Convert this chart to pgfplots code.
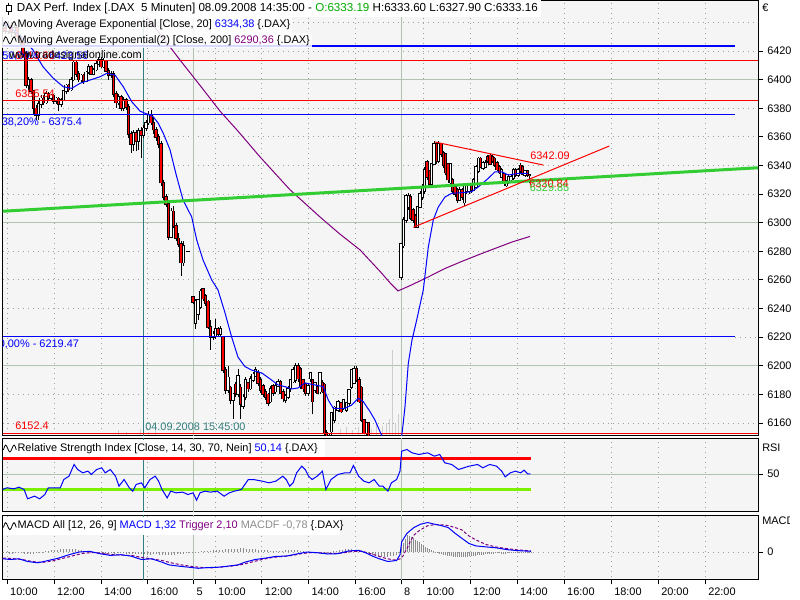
\documentclass[border=0pt]{standalone}
\usepackage{pgfplots}
\pgfplotsset{compat=1.18}
\usepackage{pgfplotstable}
\usepackage{fontspec}
\setmainfont{Liberation Sans}
\definecolor{bgpanel}{RGB}{245,245,245}
\definecolor{gridsolid}{RGB}{176,194,176}
\definecolor{griddot}{RGB}{150,165,150}
\definecolor{tealv}{RGB}{50,125,125}
\definecolor{trendgreen}{RGB}{50,205,50}
\definecolor{rsigreen}{RGB}{124,240,0}
\definecolor{emapurple}{RGB}{128,0,128}
\definecolor{vgreen}{RGB}{0,170,0}
\definecolor{hgray}{RGB}{140,140,140}
\definecolor{volgray}{RGB}{205,205,205}
\definecolor{lvlblue}{RGB}{0,0,255}

\pgfplotstableread{
x o h l c
5 6436 6440 6432 6434
8 6434 6441 6432 6438
11 6438 6440 6430 6433
14 6433 6439 6431 6436
17 6436 6437 6428 6430
20 6430 6432 6424 6426
23 6426 6428 6416 6418
26 6418 6420 6394 6396
28.5 6396 6402 6393 6400
31 6400 6401 6390 6392
33.5 6392 6393 6376 6380
36 6380 6382 6372 6375
38.5 6375 6385 6372 6383
41 6383 6389 6380 6387
43.5 6387 6389 6382 6384
46 6384 6392 6383 6390
48.5 6390 6391 6385 6387
51 6387 6390 6385 6389
53.5 6389 6390 6383 6385
56 6385 6388 6383 6387
58.5 6387 6388 6378 6383
61 6383 6387 6381 6386
63.5 6386 6393 6385 6392
66 6392 6397 6390 6396
68.5 6396 6397 6391 6393
71 6393 6402 6392 6400
73.5 6400 6414 6399 6412
76 6412 6413 6402 6404
78.5 6404 6406 6398 6400
81 6400 6404 6398 6403
83.5 6403 6404 6397 6399
86 6399 6406 6398 6405
88.5 6405 6411 6404 6409
91 6409 6410 6403 6404
93.5 6404 6408 6403 6407
96 6407 6413 6406 6411
98.5 6411 6416 6410 6414
101 6414 6416 6408 6409
103.5 6409 6415 6408 6413
106 6413 6414 6405 6406
108.5 6406 6408 6400 6403
111 6403 6406 6401 6404
113.5 6404 6406 6388 6390
116 6390 6392 6380 6384
118.5 6384 6390 6382 6388
121 6388 6389 6378 6380
123.5 6380 6388 6378 6386
126 6386 6387 6379 6381
128.5 6381 6383 6359 6362
131 6362 6364 6349 6355
133.5 6355 6365 6350 6363
136 6363 6365 6350 6357
138.5 6357 6366 6351 6364
141 6364 6367 6345 6361
143.5 6361 6368 6359 6366
146 6366 6372 6364 6370
148.5 6370 6378 6368 6375
151 6375 6379 6368 6370
153.5 6370 6374 6362 6365
156 6365 6367 6357 6360
158.5 6360 6362 6352 6355
161 6355 6357 6326 6328
163.5 6328 6330 6316 6318
166 6318 6320 6311 6313
168.5 6313 6315 6288 6290
171 6290 6310 6289 6308
173.5 6308 6312 6296 6298
176 6298 6300 6287 6289
178.5 6289 6293 6283 6285
181 6285 6287 6263 6272
183.5 6272 6287 6270 6284
188 6280 6280.5 6279.5 6280
193 6248 6249 6243 6244.6
195.5 6230 6247 6226 6245
198 6236 6247 6232 6246
200.5 6241 6254 6240 6252
203 6253.7 6254 6245 6247
205.5 6249 6250 6242 6244
208 6245 6246 6226 6227
210.5 6227 6232 6211 6220
213 6220 6224 6218 6222
215.5 6221 6233 6219 6226
218 6226 6227 6220 6222
220.5 6222 6228 6220 6226
223 6220 6221 6195 6197
225.5 6197 6199 6180 6183
228 6183 6200 6181 6192
230.5 6185 6186 6173 6176
233 6176 6181 6163 6180
235.5 6187 6189 6178 6181
238 6180 6198 6178 6193
240.5 6185 6187 6163 6173
243 6172 6180 6170 6178
245.5 6178 6192 6176 6190
248 6188 6189 6182 6184
250.5 6184 6193 6183 6191
253 6190 6196 6189 6194
255.5 6193 6199 6192 6197
258 6195 6197 6186 6188
260.5 6190 6192 6181 6183
263 6186 6187 6178 6180
265.5 6182 6184 6176 6178
268 6180 6181 6172 6174
270.5 6175 6186 6174 6184
273 6186 6187 6179 6181
275.5 6182 6188 6180 6186
278 6186 6191 6185 6189
280.5 6189 6190 6180 6181
283 6182 6184 6175 6177
285.5 6176 6180 6174 6179
288 6178 6186 6177 6184
290.5 6184 6191 6182 6190
293 6189 6199 6188 6197
295.5 6190 6202 6188 6200
298 6200 6202 6189 6191
300.5 6198 6199 6184 6186
303 6190 6191 6182 6184
305.5 6187 6188 6179 6181
308 6181 6187 6179 6186
310.3 6191 6196 6189 6195
312.6 6190 6191 6166 6175
315 6183 6189 6181 6188
317.5 6185 6186 6180 6181
320 6182 6196 6180 6195
322.3 6188 6190 6181 6182
324.6 6187 6188 6150 6153
326.8 6153 6155 6138 6143
329 6143 6152 6140 6150
331.5 6154 6168 6148 6167
334.5 6162 6172 6160 6171
338 6169 6176 6168 6175
341 6174 6175 6167 6168
343.5 6170 6177 6169 6176
346.5 6169 6175 6168 6174
349 6174 6184 6172 6183
351.5 6185 6198 6184 6197
354 6188 6200 6187 6198
356.5 6198 6200 6189 6190
359 6190 6192 6174 6175
361.5 6185 6186 6161 6162
364 6162 6163 6152 6153
366.5 6153 6161 6150 6160
368.8 6160 6161 6145 6150
401 6262 6286 6260 6285
403.5 6284 6304 6282 6302
406 6302 6320 6300 6319
408.5 6311 6321 6309 6319
410.8 6318 6320 6302 6303
413 6309 6310 6300 6302
415.3 6305 6306 6296 6297
417.6 6297 6312 6296 6311
420 6311 6322 6310 6320
422.3 6318 6327 6316 6325
424.6 6322 6339 6320 6337
427 6342.7 6344 6330 6332
429.3 6336 6337 6324 6327
431.6 6327 6342 6325 6341
434 6341 6357 6340 6355
436.3 6355 6356 6341 6343
438.6 6343 6357 6342 6355
441 6355 6356 6346 6348
443.3 6349 6350 6338 6340
445.6 6348 6349 6333 6335
448 6341 6342 6328 6330
450.3 6328 6342 6326 6341
452.6 6330 6331 6320 6322
455 6325 6326 6318 6320
457.3 6323 6324 6314 6316
459.6 6316 6325 6315 6323
462 6323 6324 6316 6318
464.3 6314 6328 6312 6327
466.6 6322 6327 6320 6326
469 6322 6327 6320 6326
471.3 6326 6327 6321 6323
473.6 6323 6331 6322 6330
476 6325 6340 6324 6339
478.3 6336 6346 6335 6345
480.6 6345 6346 6338 6339
483 6338 6343 6337 6342
485.3 6339 6344 6338 6342
487.6 6346 6347 6342 6343
490 6347 6348 6340 6341
492.3 6346 6347 6342 6343
494.6 6345 6346 6339 6340
497 6342 6343 6336 6337
499.3 6339 6340 6334 6335
501.6 6332 6338 6331 6337
504 6334 6335 6326 6328
506.3 6326 6330 6325 6329
508.6 6328 6334 6327 6332
511 6330 6333 6329 6332
513.3 6331 6338 6330 6337
515.6 6337 6338 6332 6333
518 6333 6338 6332 6337
520.3 6340 6342 6335 6336
522.6 6339 6340 6333 6334
525 6333 6337 6332 6336
527.3 6336 6337 6332 6333
529.6 6333.19 6333.6 6327.9 6333.16
}\candles

\pgfplotsset{panel/.style={
  scale only axis, width=566.625pt, xmin=2.5, xmax=758,
  axis background/.style={fill=bgpanel},
  axis line style={black, line width=0.75pt},
  tick style={black, line width=0.75pt},
  tick align=outside, major tick length=4pt,
  ytick pos=right, yticklabel pos=right,
  tick label style={font=\fontsize{8.2}{9.8}\selectfont},
  /pgf/number format/1000 sep={},
  /pgf/number format/assume math mode=true,
  clip=true,
}}

\newcommand\vgrid[2]{%
  \pgfplotsinvokeforeach{7,54,101,147.5,215,261.7,308.3,355,423.5,470,517,564,611,658,705}{%
    \addplot[griddot, line width=0.75pt, dash pattern=on 0.75pt off 3pt, forget plot] coordinates {(##1,#1)(##1,#2)};}
  \pgfplotsinvokeforeach{193.5,401}{%
    \addplot[gridsolid, line width=0.75pt, forget plot] coordinates {(##1,#1)(##1,#2)};}
  \addplot[tealv, line width=0.75pt, forget plot] coordinates {(143,#1)(143,#2)};
}

\newcommand\wave[1]{%
  \draw[black, line width=0.6pt] (2.6pt,#1-1pt) sin (4.2pt,#1+2.6pt) cos (5.8pt,#1) sin (7.4pt,#1-2.6pt) cos (9pt,#1) sin (10.6pt,#1+2.6pt) cos (12.2pt,#1-1pt);}

\begin{document}
\fontsize{8.2}{9.8}\selectfont
\begin{tikzpicture}
\useasboundingbox (0pt,0pt) rectangle (600pt,-450pt);

% ===== price panel =====
\begin{axis}[panel, at={(1.875pt,-0.75pt)}, anchor=north west, height=325.5pt,
  ymin=6151.62, ymax=6454.95, xtick=\empty,
  ytick={6160,6180,...,6420}]
\pgfplotsinvokeforeach{6160,6180,6240,6260,6280,6320,6340,6360,6380,6420,6440}{%
  \addplot[griddot, line width=0.75pt, dash pattern=on 0.75pt off 3pt, forget plot] coordinates {(2.5,#1)(758,#1)};}
\addplot[griddot, line width=0.75pt, dash pattern=on 0.75pt off 3pt, forget plot] coordinates {(735,6220)(758,6220)};
\pgfplotsinvokeforeach{6200,6300,6400}{%
  \addplot[gridsolid, line width=0.75pt, forget plot] coordinates {(2.5,#1)(758,#1)};}
\vgrid{6100}{6500}
% faint volume
\addplot[volgray, ycomb, line width=0.75pt] coordinates {
(118,6155)(126,6154)(140,6156)(148,6154)(155,6155)(340,6156)(346,6157)(352,6155)(358,6157)
(364,6158)(371,6156)(376,6159)(382,6158)(386,6160)(389,6163)(392,6211)(395,6160)(398,6166)};
% candles: wicks, borders, bodies
\addplot[black, line width=0.75pt, -, quiver={u=0, v=\thisrow{h}-\thisrow{l}}] table[x=x, y=l] {\candles};
\addplot[black, line width=2.3pt, -, quiver={u=0, v=abs(\thisrow{c}-\thisrow{o})+1.0}] table[x=x, y expr={min(\thisrow{o},\thisrow{c})-0.5}] {\candles};
\addplot[red, line width=0.9pt, -, quiver={u=0, v=\thisrow{o}-\thisrow{c}},
  restrict expr to domain={\thisrow{o}-\thisrow{c}}{0.001:1000}] table[x=x, y=c] {\candles};
\addplot[white, line width=0.9pt, -, quiver={u=0, v=\thisrow{c}-\thisrow{o}},
  restrict expr to domain={\thisrow{c}-\thisrow{o}}{0.001:1000}] table[x=x, y=o] {\candles};
% horizontal levels
\addplot[lvlblue, line width=0.9pt] coordinates {(2.5,6423.56)(735,6423.56)};
\addplot[red, line width=0.8pt] coordinates {(2.5,6413.6)(758,6413.6)};
\addplot[red, line width=0.8pt] coordinates {(2.5,6385.54)(758,6385.54)};
\addplot[lvlblue, line width=0.9pt] coordinates {(2.5,6375.4)(735,6375.4)};
\addplot[lvlblue, line width=0.9pt] coordinates {(2.5,6220.3)(735,6220.3)};
\addplot[red, line width=0.8pt] coordinates {(2.5,6152.6)(758,6152.6)};
% EMA 200
\addplot[emapurple, line width=0.75pt] coordinates {
(125,6461)(133,6455.6)(150,6441)(167,6425.6)(180,6413.7)(200,6396)(220,6378)(237,6364.8)
(260,6346)(290,6323)(320,6304)(340,6292)(360,6281)(380,6266)(390,6258)(398,6252.3)
(410,6256)(428,6262)(445,6268)(462,6273)(480,6278)(495,6282)(512,6286.5)(530,6290.4)};
% EMA 20
\addplot[blue, line width=0.75pt] coordinates {
(2.5,6440)(15,6434)(25,6427)(33,6420.7)(43,6409)(53.3,6400.9)(63.3,6395)(71.7,6393.9)
(80,6397.4)(90,6399.7)(100,6402)(106.7,6404.4)(115,6403.2)(123.3,6395)(131.7,6384.6)
(140,6378)(153.3,6374)(158.3,6369.5)(163.3,6362.5)(170,6351)(176,6334)(183,6316)
(191.7,6304)(196.7,6288)(203,6274)(211.7,6260)(218,6253)(225,6237)(231.7,6220)(238,6206)
(245,6199.4)(251.7,6197)(261.7,6195)(271.7,6190)(278,6186.6)(285,6185.4)(291.7,6183.8)
(298,6184.5)(305,6188)(315,6186.6)(323.3,6185.4)(328.3,6176)(333.3,6170.3)(345,6170.3)
(351.7,6172.6)(358.3,6177.3)(363.3,6174.9)(370,6168)(375,6162)(380,6154)(382.3,6150.5)
(388,6143)(396,6140)(401.7,6150.5)(405,6171.4)(408.3,6201.7)(412,6218)(416.7,6232)
(423.3,6253)(428.3,6283)(433.3,6302)(438.3,6311)(445,6318)(451.7,6320.5)(461.7,6321)
(471.7,6321.7)(478.3,6325)(488.3,6331)(495,6335.6)(501.7,6335.6)(508.3,6333.3)
(518.3,6334.5)(528.3,6334.4)};
% trend lines
\addplot[trendgreen, line width=2.25pt] coordinates {(2.5,6308)(758,6338.4)};
\addplot[red, line width=0.75pt] coordinates {(435,6356.4)(543.3,6340.3)};
\addplot[red, line width=0.75pt] coordinates {(413.3,6296.8)(609.3,6353.6)};
% labels
\node[anchor=west, inner sep=0pt, blue] at (axis cs:2,6416.5) {50,00\% - 6423.56};
\node[anchor=west, inner sep=0pt, red] at (axis cs:15,6416.5) {6413.60};
\node[anchor=west, inner sep=0pt] at (axis cs:9,6416.5) {www.tradesignalonline.com};
\node[anchor=west, inner sep=0pt, red] at (axis cs:15,6389.9) {6385.54};
\node[anchor=west, inner sep=0pt, blue] at (axis cs:1.5,6370.4) {38,20\% - 6375.4};
\node[anchor=west, inner sep=0pt, blue] at (axis cs:-1.5,6215.2) {0,00\% - 6219.47};
\node[anchor=west, inner sep=0pt, red] at (axis cs:15,6158) {6152.4};
\node[anchor=west, inner sep=0pt, tealv] at (axis cs:145,6157.5) {04.09.2008 15:45:00};
\node[anchor=west, inner sep=0pt, red] at (axis cs:530,6347) {6342.09};
\node[anchor=west, inner sep=0pt, red] at (axis cs:529,6327.5) {6330.84};
\node[anchor=west, inner sep=0pt, trendgreen] at (axis cs:529.5,6324.5) {6329.85};
\end{axis}

% ===== RSI panel =====
\begin{axis}[panel, at={(1.875pt,-328.875pt)}, anchor=north west, height=54.75pt,
  ymin=1.61, ymax=95.81, xtick=\empty, ytick={50}]
\addplot[gridsolid, line width=0.75pt, forget plot] coordinates {(2.5,50)(758,50)};
\vgrid{0}{100}
\addplot[red, line width=2.25pt] coordinates {(2.5,70)(531,70)};
\addplot[rsigreen, line width=2.25pt] coordinates {(2.5,30)(531,30)};
\addplot[blue, line width=0.75pt] coordinates {
(2.5,30)(6.9,32.2)(13.8,30.9)(19,33)(24.1,30)(27.6,18)(34.5,21.4)(39.7,18)(44.8,23.5)
(48.3,32.2)(55.2,32.2)(60.3,32.2)(63.8,42.9)(69,47.2)(74.1,62.3)(77.6,55.8)(82.8,51.5)
(87.9,53.7)(91.4,49.4)(96.6,55.8)(101.7,58)(105.2,51.5)(110.3,55.8)(115.5,47.2)(119,34.3)
(124.1,42.9)(129.3,32.2)(132.8,27.9)(136.2,36.5)(141.4,38.6)(144.8,32.2)(150,42.9)
(155.2,47.2)(158.6,40.8)(162,30)(167.2,19.2)(170.7,27.9)(175.9,25.7)(182.8,26.6)
(187.9,23.5)(193.1,25.7)(196.6,16.2)(200,25.7)(205.2,27.9)(210.3,26.6)(217.2,27.9)
(224.1,21.4)(229.3,25.7)(234.5,27.9)(241.4,30)(248.3,42.9)(253.4,42.9)(262.1,40.8)
(269,38.6)(275.9,40.8)(282.8,47.2)(286.2,42.9)(289.7,34.3)(293.1,38.6)(296.6,51.5)
(301.7,60.1)(305.2,55.8)(308.6,47.2)(312.1,42.9)(317.2,47.2)(322.4,53.7)(325.9,30)
(331,42.9)(337.9,49.4)(344.8,51.5)(350,51.5)(353.4,61)(358.6,47.2)(363.8,40.8)(369,38.6)
(374.1,42.9)(379.3,34.3)(382.8,34.3)(387.9,27.9)(391.4,38.6)(396.6,42.9)(400,53.7)
(401.7,79.5)(406.9,81.6)(412.1,77.3)(419,75.2)(427.6,77.3)(434.5,73)(439.7,75.2)
(444.8,64.4)(451.7,62.3)(458.6,55.8)(463.8,58)(469,60.1)(477.6,62.3)(482.8,58)
(489.7,62.3)(496.6,60.1)(501.7,53.7)(505.2,46.3)(510.3,51.5)(515.5,53.7)(520.7,51.5)
(524.1,55)(527.6,50.2)(530.3,50.1)};
\end{axis}

% ===== MACD panel =====
\begin{axis}[panel, at={(1.875pt,-386.25pt)}, anchor=north west, height=48pt,
  ymin=-27, ymax=37, ytick={0}, xtick pos=bottom,
  xtick={7,54,101,147.5,193.5,215,261.7,308.3,355,401,423.5,470,517,564,611,658,705},
  xticklabels={10:00,12:00,14:00,16:00,5,10:00,12:00,14:00,16:00,8,10:00,12:00,14:00,16:00,18:00,20:00,22:00},
  xticklabel style={anchor=north west, xshift=-0.5pt}]
\addplot[griddot, line width=0.75pt, dash pattern=on 0.75pt off 3pt, forget plot] coordinates {(2.5,0)(758,0)};
\vgrid{-40}{50}
\addplot[hgray, ycomb, line width=0.75pt] coordinates {
(3,-1)(6,-1)(9,-1.5)(12,-1.5)(15,-1)(18,-0.5)(21,-1)(24,-1.5)(27,-2)(30,-2)(33,-1.5)(36,-1)
(39,-0.5)(42,0.5)(45,1)(48,1.5)(51,2)(54,2)(57,2.5)(60,3)(63,3)(66,3.5)(69,3.5)(72,3)(75,3)
(78,2.5)(81,2)(84,1.5)(87,1)(90,0.5)(93,0.2)(96,-0.5)(99,-1)(102,-1.5)(105,-1.5)(108,-1)
(111,-1)(114,-1.5)(117,-1)(120,-0.5)(123,-1)(126,-1.5)(129,-2)(132,-2)(135,-1.5)(138,-1.5)
(141,-2)(144,-2)(147,-2.5)(150,-2.5)(153,-2)(156,-2)(159,-2.5)(162,-3)(165,-3)(168,-3)
(171,-2.5)(174,-2.5)(177,-2)(180,-1.5)(183,-1.5)(186,-1)(189,-0.5)(192,-0.5)(195,0.2)
(198,0.5)(201,1)(204,1)(207,1.5)(210,1.5)(213,2)(216,2)(219,2.5)(222,2.5)(225,3)(228,3)
(231,3)(234,3.5)(237,3.5)(240,4)(243,4)(246,3.5)(249,3.5)(252,3)(255,3)(258,2.5)(261,2.5)
(264,2)(267,2)(270,1.5)(273,1.5)(276,1)(279,1)(282,1.5)(285,2)(288,2)(291,2.5)(294,2.5)
(297,2)(300,1.5)(303,1)(306,0.5)(309,0.2)(312,-0.5)(315,-0.5)(318,0.2)(321,0.5)(324,0.2)
(327,-0.5)(330,0.2)(333,1)(336,1.5)(339,2)(342,2.5)(345,3)(348,3)(351,3)(354,2.5)(357,2)
(360,1)(363,0.2)(366,-1)(369,-2)(372,-3)(375,-3.5)(378,-4)(381,-4.5)(384,-4.5)(387,-4.5)
(390,-4)(393,-3.5)(396,-3)(399,-1)
(401,5)(403,9)(405,13)(407,17)(409,16)(411,15)(413,14)(415,12)(417,11)(419,10)(421,8.5)
(423,7)(425,5.5)(427,4)(429,3)(431,2)(433,1)(435,0.2)(437,-1)(439,-1.5)(441,-2)(443,-2.5)
(445,-3)(447,-3.5)(449,-4)(451,-4)(453,-4.5)(455,-5)(457,-5)(459,-5)(461,-5)(463,-5)
(465,-4.5)(467,-4.5)(469,-4)(471,-4)(473,-3.5)(475,-3.5)(477,-3)(479,-3)(481,-2.5)
(483,-2.5)(485,-2)(487,-2)(489,-1.5)(491,-1.5)(493,-1.5)(495,-1)(497,-1)(499,-1)
(501,-1.5)(503,-1.5)(505,-1.5)(507,-1)(509,-1)(511,-1)(513,-0.5)(515,-0.5)(517,-0.5)
(519,-1)(521,-1)(523,-1)(525,-0.5)(527,-0.5)(529,-1)(531,-1)};
\addplot[emapurple, line width=0.75pt, dash pattern=on 2.25pt off 1.5pt] coordinates {
(3,-6)(12,-6.5)(22,-7.5)(32,-9.5)(42,-10.5)(52,-9)(62,-6.5)(72,-4)(82,-1.5)(92,-0.5)
(102,-1)(112,-2.5)(122,-3)(132,-3.5)(142,-5.5)(152,-7)(162,-8.5)(172,-11)(182,-13)
(192,-14.5)(202,-15.5)(212,-15.8)(222,-15)(232,-14)(242,-12.5)(252,-10)(262,-7.5)
(272,-5.5)(282,-4.5)(292,-3.5)(302,-1.5)(312,-0.5)(322,-1)(332,-1.5)(342,-1)(352,0.5)
(362,0.8)(370,-1.5)(378,-4)(386,-6.5)(394,-8)(400,-7)(403,-4)(405,0)(407,3.4)(410,10)
(414,17)(420,22)(428,26.4)(436,27.5)(444,27)(448,26.4)(455,24.5)(462,22)(469,16)(476,12)
(486,7.5)(496,5)(506,3.5)(517,2.2)(531,1.1)};
\addplot[blue, line width=0.75pt] coordinates {
(3,-6.8)(10.3,-7.5)(19,-6.8)(27.6,-9.5)(37.9,-10.8)(48.3,-8.5)(58.6,-6.1)(69,-2.7)(79.3,0)
(89.7,0.7)(100,-1.7)(110.3,-3.4)(120.7,-2.7)(131,-4.1)(141.4,-7.5)(151.7,-6.8)(162,-10.2)
(169,-12.9)(179.3,-14.2)(189.7,-15.3)(198.3,-16.3)(206.9,-15.6)(217.2,-15.3)(227.6,-14.2)
(237.9,-12.9)(244.8,-10.2)(255.2,-7.5)(265.5,-6.1)(275.9,-4.4)(286.2,-4.1)(296.6,-2)
(306.9,0)(317.2,-0.7)(327.6,-2)(337.9,-1.7)(348.3,1)(358.6,1.7)(365.5,-0.7)(372.4,-4.1)
(379.3,-6.8)(387.9,-9.5)(396.6,-8.5)(400,-2.7)(401.7,10.2)(406.9,18.6)(413.8,24.4)
(420.7,27.8)(427.6,29.5)(434.5,27.8)(441.4,26.4)(448.3,24.4)(455.2,18.6)(462,13.6)
(469,8.5)(475.9,6.1)(486.2,5.1)(496.6,4.1)(506.9,2.4)(517.2,1.4)(531,0.7)};
\end{axis}

% ===== legend boxes =====
\fill[white] (0pt,0pt) rectangle (405.75pt,-12.75pt);
\fill[white, opacity=0.85] (0pt,-12.75pt) rectangle (219pt,-24.75pt);
\fill[white, opacity=0.85] (0pt,-24.75pt) rectangle (234pt,-36pt);
\draw[black, line width=0.6pt] (6.6pt,-2pt) -- (6.6pt,-11pt);
\draw[black, line width=0.6pt, fill=white] (5pt,-4pt) rectangle (8.2pt,-8.6pt);
\node[anchor=west, inner sep=0pt, font=\fontsize{8.7}{10}\selectfont] at (12.5pt,-6.6pt) {DAX Perf. Index [.DAX\ \ 5 Minuten] 08.09.2008 14:35:00 - {\color{vgreen}O:6333.19} H:6333.60 L:6327.90 C:6333.16};
\wave{-18.7pt}
\node[anchor=west, inner sep=0pt] at (13pt,-18.7pt) {Moving Average Exponential [Close, 20] {\color{blue}6334,38} \{.DAX\}};
\wave{-30.2pt}
\node[anchor=west, inner sep=0pt] at (13pt,-30.2pt) {Moving Average Exponential(2) [Close, 200] {\color{emapurple}6290,36} \{.DAX\}};

\fill[white] (2.25pt,-330pt) rectangle (243.75pt,-342.75pt);
\wave{-336.4pt}
\node[anchor=west, inner sep=0pt] at (13pt,-336.4pt) {Relative Strength Index [Close, 14, 30, 70, Nein] {\color{blue}50,14} \{.DAX\}};
\fill[white] (2.25pt,-387.75pt) rectangle (255pt,-401.25pt);
\wave{-394.6pt}
\node[anchor=west, inner sep=0pt] at (13pt,-394.6pt) {MACD All [12, 26, 9] {\color{blue}MACD 1,32} {\color{emapurple}Trigger 2,10} {\color{hgray}MACDF -0,78} \{.DAX\}};

% right side labels
\begin{scope}
\clip (0pt,0pt) rectangle (592pt,-450pt);
\node[anchor=west, inner sep=0pt] at (571.5pt,-6pt) {€};
\node[anchor=west, inner sep=0pt] at (571.5pt,-335.5pt) {RSI};
\node[anchor=west, inner sep=0pt] at (571.5pt,-390.8pt) {MACD};
\end{scope}
\end{tikzpicture}
\end{document}
